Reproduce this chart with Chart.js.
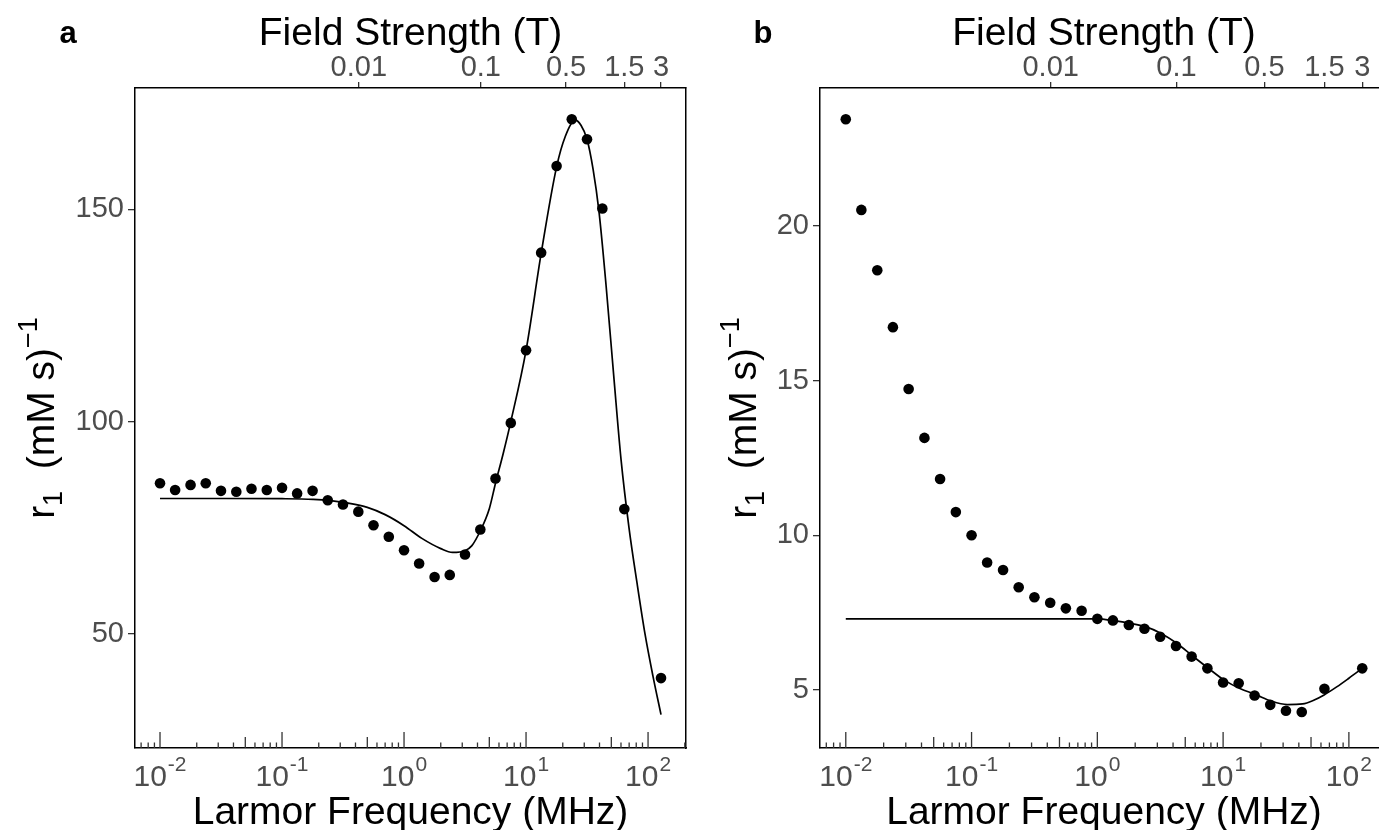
<!DOCTYPE html>
<html>
<head>
<meta charset="utf-8">
<script src="https://cdn.jsdelivr.net/npm/chart.js@4.4.1/dist/chart.umd.min.js"></script>
<style>
  html, body { margin: 0; padding: 0; background: #fff; overflow: hidden; }
  #wrap { position: relative; width: 1379px; height: 830px; overflow: hidden; }
  canvas { position: absolute; top: 0; }
  #chartA { left: 0; }
  #chartB { left: 700px; }
</style>
</head>
<body>
<div id="wrap">
  <canvas id="chartA" width="700" height="830"></canvas>
  <canvas id="chartB" width="700" height="830"></canvas>
</div>
<script>
const FONT = "'Liberation Sans', Arial, Helvetica, sans-serif";
const GAMMA_H = 42.58; // 1H gyromagnetic ratio, MHz per tesla

// measured points, Larmor frequency in MHz (same field cycle for both samples)
const larmorMHz = [0.01, 0.0133, 0.0178, 0.0237, 0.0316, 0.0422, 0.0562, 0.075,
  0.1, 0.133, 0.178, 0.237, 0.316, 0.422, 0.562, 0.75,
  1, 1.33, 1.78, 2.37, 3.16, 4.22, 5.62, 7.5,
  10, 13.3, 17.8, 23.7, 31.6, 42.2, 63.9, 127.7];

const r1A = [85.5, 83.9, 85.1, 85.5, 83.7, 83.5, 84.2, 83.9,
  84.4, 83.1, 83.7, 81.5, 80.5, 78.8, 75.6, 72.9,
  69.7, 66.6, 63.4, 63.9, 68.7, 74.6, 86.6, 99.7,
  116.8, 139.8, 160.2, 171.2, 166.5, 150.2, 79.4, 39.6];

const r1B = [23.45, 20.52, 18.57, 16.73, 14.73, 13.15, 11.82, 10.75,
  10.0, 9.12, 8.88, 8.32, 8.0, 7.82, 7.64, 7.56,
  7.30, 7.25, 7.10, 6.98, 6.72, 6.42, 6.08, 5.70,
  5.24, 5.22, 4.82, 4.52, 4.33, 4.29, 5.04, 5.70];

// fitted model curves
const fitMHzA = [0.01, 0.03, 0.1, 0.18, 0.25, 0.35, 0.5, 0.7, 1.0, 1.4, 2.0, 2.5, 3.16, 3.6,
  4.22, 5.0, 5.62, 6.5, 7.5, 10, 13.3, 17.8, 21, 25.2, 28.2, 31.6, 35.4, 39.6,
  45.3, 52.6, 60.1, 69.8, 81.2, 94.4, 109.8, 127.7];
const fitR1A = [81.9, 81.9, 81.85, 81.7, 81.4, 80.8, 79.8, 78.1, 75.5, 72.5, 70.1, 69.2, 69.6, 70.8,
  74.3, 79.5, 85.5, 92.5, 100, 116.8, 139.6, 160.0, 167.2, 171.0, 169.8, 166.5, 159.5, 149.5,
  132, 110, 91, 75, 62, 50, 40, 31];

const fitMHzB = [0.01, 0.1, 0.5, 1.01, 1.35, 1.8, 2.41, 3.22, 4.28, 5.72, 7.65, 10.2,
  13.6, 18.2, 24.2, 32.4, 42.9, 52, 63.5, 80, 100, 127.7];
const fitR1B = [7.30, 7.30, 7.30, 7.30, 7.24, 7.16, 7.05, 6.83, 6.51, 6.10, 5.70, 5.32,
  5.05, 4.85, 4.64, 4.53, 4.55, 4.66, 4.84, 5.10, 5.38, 5.70];

// axis ticks
const fieldTicksT = [0.01, 0.1, 0.5, 1.5, 3];
const decadeExps = [-2, -1, 0, 1, 2];
const r1TicksA = [50, 100, 150];
const r1TicksB = [5, 10, 15, 20];

const LOG_MIN = -2.205, LOG_MAX = 2.311;

function pairs(xs, ys) {
  return xs.map((x, i) => ({ x: x, y: ys[i] }));
}

const decorPlugin = {
  id: 'decor',
  afterDraw(chart, args, opts) {
    const ctx = chart.ctx;
    const xs = chart.scales.x;
    const area = chart.chartArea;
    ctx.save();

    // log ticks on the inside of the bottom axis
    ctx.strokeStyle = '#333';
    ctx.lineWidth = 1.3;
    for (let e = -3; e <= 2; e++) {
      for (let m = 1; m <= 9; m++) {
        const v = m * Math.pow(10, e);
        if (v < xs.min || v > xs.max) continue;
        const len = m === 1 ? 16 : (m === 5 ? 11 : 5.5);
        const px = xs.getPixelForValue(v);
        ctx.beginPath();
        ctx.moveTo(px, area.bottom);
        ctx.lineTo(px, area.bottom - len);
        ctx.stroke();
      }
    }

    // 10^k labels
    ctx.fillStyle = '#4d4d4d';
    ctx.textBaseline = 'alphabetic';
    ctx.textAlign = 'left';
    decadeExps.forEach(e => {
      const px = xs.getPixelForValue(Math.pow(10, e));
      const sup = String(e);
      ctx.font = '30px ' + FONT;
      const wb = ctx.measureText('10').width;
      ctx.font = '21px ' + FONT;
      const ws = ctx.measureText(sup).width;
      const x0 = px - (wb + ws + 1) / 2;
      ctx.font = '30px ' + FONT;
      ctx.fillText('10', x0, 786);
      ctx.font = '21px ' + FONT;
      ctx.fillText(sup, x0 + wb + 1, 771);
    });

    // axis titles
    const cx = (area.left + area.right) / 2;
    ctx.fillStyle = '#000';
    ctx.textAlign = 'center';
    ctx.font = '39px ' + FONT;
    ctx.fillText('Larmor Frequency (MHz)', cx, 824);
    ctx.fillText('Field Strength (T)', cx, 45);

    // panel letter
    ctx.font = 'bold 31px ' + FONT;
    ctx.fillText(opts.letter, opts.letterX, 43);

    // rotated y title: r1 (mM s)^-1
    const cy = (area.top + area.bottom) / 2;
    const parts = [
      { t: 'r', size: 39, dy: 0 },
      { t: '1', size: 27, dy: 8 },
      { t: '  (mM s)', size: 39, dy: 0 },
      { t: '\u22121', size: 27, dy: -17 }
    ];
    let total = 0;
    parts.forEach(p => { ctx.font = p.size + 'px ' + FONT; p.w = ctx.measureText(p.t).width; total += p.w; });
    ctx.translate(opts.yTitleX, cy);
    ctx.rotate(-Math.PI / 2);
    ctx.textAlign = 'left';
    let x = -total / 2;
    parts.forEach(p => {
      ctx.font = p.size + 'px ' + FONT;
      ctx.fillText(p.t, x, p.dy);
      x += p.w;
    });
    ctx.restore();
  }
};

function makePanel(id, cfg) {
  const xMin = Math.pow(10, LOG_MIN), xMax = Math.pow(10, LOG_MAX);
  const axisLine = { display: true, color: '#000', width: 1.5 };
  return new Chart(document.getElementById(id), {
    type: 'scatter',
    data: {
      datasets: [
        {
          data: pairs(cfg.fitX, cfg.fitY),
          showLine: true,
          borderColor: '#000',
          borderWidth: 1.7,
          pointRadius: 0,
          cubicInterpolationMode: 'monotone'
        },
        {
          data: pairs(larmorMHz, cfg.r1),
          pointRadius: 5.3,
          pointBackgroundColor: '#000',
          pointBorderWidth: 0
        }
      ]
    },
    options: {
      responsive: false,
      animation: false,
      devicePixelRatio: 1,
      layout: { padding: 0, autoPadding: false },
      plugins: {
        legend: { display: false },
        tooltip: { enabled: false },
        decor: { letter: cfg.letter, letterX: cfg.letterX, yTitleX: cfg.yTitleX }
      },
      scales: {
        x: {
          type: 'logarithmic', position: 'bottom', min: xMin, max: xMax,
          grid: { display: false }, border: axisLine,
          ticks: { display: false },
          afterBuildTicks: s => { s.ticks = []; },
          afterFit: s => { s.height = 82; }
        },
        x2: {
          type: 'logarithmic', position: 'top', min: xMin / GAMMA_H, max: xMax / GAMMA_H,
          grid: { display: true, drawOnChartArea: false, drawTicks: true, tickLength: 6, color: '#333', lineWidth: 1.3 },
          border: axisLine,
          ticks: { color: '#4d4d4d', font: { family: FONT, size: 29 }, padding: -3, maxRotation: 0, autoSkip: false,
                   callback: v => String(v) },
          afterBuildTicks: s => { s.ticks = fieldTicksT.map(v => ({ value: v })); },
          afterFit: s => { s.height = 88; }
        },
        y: {
          type: 'linear', position: 'left', min: cfg.yMin, max: cfg.yMax,
          grid: { display: true, drawOnChartArea: false, drawTicks: true, tickLength: 7, color: '#333', lineWidth: 1.3 },
          border: axisLine,
          ticks: { color: '#4d4d4d', font: { family: FONT, size: 29 }, padding: 4 },
          afterBuildTicks: s => { s.ticks = cfg.yTicks.map(v => ({ value: v })); },
          afterFit: s => { s.width = cfg.leftWidth; }
        },
        y2: {
          type: 'linear', position: 'right', min: cfg.yMin, max: cfg.yMax,
          grid: { display: false }, border: axisLine,
          ticks: { display: false },
          afterBuildTicks: s => { s.ticks = []; },
          afterFit: s => { s.width = cfg.rightWidth; }
        }
      }
    },
    plugins: [decorPlugin]
  });
}

makePanel('chartA', {
  letter: 'a', letterX: 68, yTitleX: 54,
  r1: r1A, fitX: fitMHzA, fitY: fitR1A,
  yMin: 23.14, yMax: 178.57, yTicks: r1TicksA,
  leftWidth: 135, rightWidth: 14
});

makePanel('chartB', {
  letter: 'b', letterX: 63, yTitleX: 56,
  r1: r1B, fitX: fitMHzB, fitY: fitR1B,
  yMin: 3.125, yMax: 24.46, yTicks: r1TicksB,
  leftWidth: 120, rightWidth: 12
});
</script>
</body>
</html>
